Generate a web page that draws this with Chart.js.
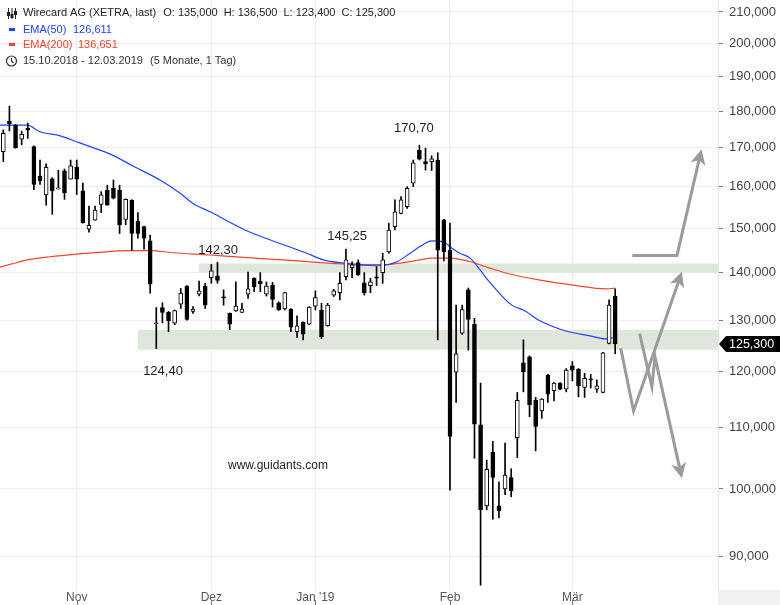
<!DOCTYPE html>
<html>
<head>
<meta charset="utf-8">
<script src="https://cdn.jsdelivr.net/npm/chart.js@4.4.1/dist/chart.umd.min.js"></script>
<style>
  html, body { margin: 0; padding: 0; background: #fff; }
  canvas { display: block; }
</style>
</head>
<body>
<canvas id="myChart" width="780" height="605"></canvas>
<script>
// daily candles 16.10.2018 .. 12.03.2019 (index 0 = first visible day)
const open = [169.0, 177.2, 176.1, 172.3, 175.2, 170.3, 162.7, 158.0, 162.0, 159.5,
  164.0, 161.9, 165.0, 159.0, 149.8, 151.9, 155.7, 159.1, 159.6, 159.2,
  152.1, 156.7, 151.7, 150.4, 147.1, 129.3, 132.6, 131.6, 129.4, 133.3,
  137.1, 131.8, 135.4, 137.1, 138.9, 139.3, 134.8, 131.4, 131.9, 131.6,
  135.4, 138.8, 138.2, 135.4, 137.3, 133.6, 132.3, 132.3, 127.7, 129.6,
  129.2, 132.9, 132.1, 128.9, 135.2, 135.7, 139.1, 141.1, 142.2, 137.8,
  137.2, 139.1, 140.0, 144.6, 150.4, 153.5, 155.1, 160.9, 169.4, 166.4,
  166.4, 166.8, 152.0, 145.0, 119.9, 127.4, 136.3, 129.2, 110.5, 97.4,
  105.9, 97.4, 100.0, 101.8, 108.3, 121.7, 122.8, 114.8, 112.9, 119.4,
  116.5, 117.9, 116.8, 121.1, 120.5, 117.1, 118.7, 116.8, 116.2, 125.4,
  135.0];
const high = [174.8, 181.4, 176.3, 174.5, 176.7, 170.5, 166.8, 165.8, 162.3, 164.2,
  164.5, 166.8, 166.8, 160.9, 155.3, 155.3, 158.8, 160.4, 161.7, 160.4,
  157.0, 156.8, 153.7, 150.5, 148.4, 132.6, 133.6, 131.8, 132.1, 136.6,
  137.2, 132.8, 138.2, 137.7, 141.8, 142.3, 136.3, 131.5, 138.0, 133.5,
  140.1, 138.9, 140.0, 138.0, 137.9, 133.8, 135.8, 132.4, 130.9, 129.7,
  132.8, 136.1, 133.5, 133.5, 136.4, 140.0, 145.25, 142.4, 142.8, 140.0,
  138.8, 141.3, 144.3, 151.2, 156.8, 157.6, 160.0, 166.8, 170.7, 169.9,
  167.9, 168.7, 152.1, 151.2, 133.1, 133.1, 136.7, 130.4, 117.9, 104.6,
  107.7, 101.1, 107.4, 103.2, 116.2, 126.1, 123.0, 115.3, 115.1, 119.5,
  118.0, 118.0, 120.6, 121.9, 120.6, 119.7, 119.5, 118.5, 123.7, 134.2,
  136.5];
const low = [166.4, 174.5, 169.9, 170.8, 172.5, 159.3, 160.6, 155.5, 153.3, 159.4,
  156.9, 161.9, 158.1, 151.2, 149.1, 151.9, 153.7, 155.5, 157.0, 148.8,
  150.8, 145.0, 147.7, 145.2, 135.6, 124.4, 129.5, 127.7, 129.1, 132.4,
  130.0, 131.4, 135.0, 132.4, 137.7, 137.7, 133.1, 128.1, 131.8, 131.6,
  134.5, 135.9, 135.9, 135.0, 132.7, 132.0, 132.1, 127.7, 126.6, 126.1,
  129.1, 132.1, 126.4, 128.8, 134.9, 134.2, 138.4, 138.9, 139.4, 135.2,
  135.7, 137.2, 137.7, 144.3, 149.6, 153.4, 154.7, 160.0, 166.8, 164.2,
  164.1, 126.1, 142.6, 99.8, 114.4, 127.2, 124.1, 104.9, 86.1, 96.8,
  95.4, 95.6, 99.1, 98.8, 105.0, 116.3, 111.9, 106.1, 111.6, 114.4,
  114.7, 116.7, 116.3, 118.3, 115.4, 115.3, 117.0, 116.2, 116.1, 125.3,
  123.4];
const close = [173.9, 176.5, 170.0, 173.6, 174.7, 160.6, 161.5, 164.9, 159.0, 159.7,
  158.5, 165.3, 161.9, 151.3, 150.7, 154.3, 158.0, 155.5, 157.2, 150.8,
  156.9, 148.8, 148.8, 147.7, 137.5, 129.5, 131.6, 129.9, 132.0, 135.6,
  130.2, 132.3, 136.1, 133.1, 140.4, 138.3, 134.6, 129.2, 132.9, 132.3,
  136.5, 136.9, 137.6, 137.1, 134.3, 132.1, 135.7, 128.6, 128.9, 127.2,
  132.7, 134.7, 126.7, 133.1, 136.1, 137.7, 142.8, 141.7, 139.5, 135.7,
  138.0, 138.8, 142.8, 149.6, 153.9, 156.8, 159.6, 166.1, 167.0, 165.8,
  167.1, 145.0, 144.6, 108.5, 123.4, 132.2, 130.2, 110.6, 96.8, 103.1,
  101.8, 96.7, 102.2, 99.7, 114.8, 120.0, 114.0, 110.2, 115.0, 115.9,
  117.9, 116.8, 120.3, 120.3, 117.4, 118.8, 118.5, 117.4, 123.6, 133.1,
  125.3];

const monthTickIndex = [12, 34, 51, 73, 93];
const monthTickLabels = ["Nov", "Dez", "Jan '19", "Feb", "Mär"];
const priceTicks = [90, 100, 110, 120, 130, 140, 150, 160, 170, 180, 190, 200, 210];

const ema50Index = [-0.6, 3.9, 6, 9.3, 12, 14.2, 17.4, 21.5, 25.6, 28.9, 31, 33.8, 39.5, 45.8,
  49.6, 52.3, 55.6, 59.4, 62.1, 64.3, 66.5, 68.1, 70, 71.9, 73.3, 74.6, 76.3, 79.2, 83.1,
  85, 87.7, 91, 93.1, 95.9, 98.3, 100];
const ema50Values = [176.1, 176.1, 174.3, 173.2, 171.6, 170.3, 168.4, 165.0, 161.7, 158.4,
  155.9, 153.9, 149.6, 146.2, 144.3, 142.8, 142.1, 141.7, 141.7, 142.4, 144.3, 145.8,
  147.1, 146.9, 145.4, 144.3, 143.2, 138.4, 133.1, 132.1, 129.9, 128.2, 127.5, 126.9,
  126.3, 126.611];
const ema200Index = [-0.6, 1.1, 4.4, 7.6, 12, 15.8, 20.2, 24, 27.8, 33.8, 38.7, 45.8, 51.7,
  55.6, 61, 64.8, 68.1, 70, 73, 76.3, 79.5, 82.8, 87.7, 93.1, 98.6, 100];
const ema200Values = [141.2, 141.8, 142.9, 143.5, 144.1, 144.5, 144.9, 144.9, 144.4, 143.9,
  143.4, 142.8, 142.2, 141.9, 141.5, 142.1, 142.8, 143.2, 143.2, 142.4, 141.0, 139.7,
  138.4, 137.3, 136.5, 136.651];

// support / resistance zones (start index, low, high)
const zoneStart = [32, 22];
const zoneLow = [140.0, 124.2];
const zoneHigh = [142.0, 128.1];

// price notes
const noteText = ["170,70", "145,25", "142,30", "124,40"];
const noteIndex = [67.1, 56.2, 35.1, 26.1];
const noteValue = [170.7, 145.25, 142.3, 124.4];

// drawn scenario arrows, [index, price] points
const arrowPaths = [
  [[102.8, 143.8], [110.1, 143.8], [114.1, 169.6]],
  [[100.9, 124.5], [103.0, 112.9], [110.9, 140.2]],
  [[104.0, 127.3], [106.0, 117.2], [106.5, 122.8], [110.9, 101.7]],
];

const FONT = "'Liberation Sans', Arial, sans-serif";
const fmt = (v, d) => v.toFixed(d).replace(".", ",");

const bodies = open.map((o, i) => ({ x: i, y: [o, close[i]] }));
const wicks = low.map((l, i) => ({ x: i, y: [l, high[i]] }));
const bodyColors = open.map((o, i) => (close[i] >= o ? "#ffffff" : "#000000"));

const decor = {
  id: "decor",
  beforeDraw(chart) {
    const { ctx, width, height, chartArea } = chart;
    ctx.save();
    ctx.fillStyle = "#fff";
    ctx.fillRect(0, 0, width, height);
    ctx.fillStyle = "#f2f2f2";
    ctx.fillRect(chartArea.right, chartArea.bottom, width - chartArea.right, height - chartArea.bottom);
    ctx.restore();
  },
  beforeDatasetsDraw(chart) {
    const { ctx, chartArea, scales: { x, y } } = chart;
    ctx.save();
    ctx.fillStyle = "#dfe6dc";
    zoneStart.forEach((s, k) => {
      const x0 = x.getPixelForValue(s);
      const y0 = y.getPixelForValue(zoneHigh[k]);
      const y1 = y.getPixelForValue(zoneLow[k]);
      ctx.fillRect(x0, y0, chartArea.right - x0, y1 - y0);
    });
    ctx.restore();
  },
  afterDatasetsDraw(chart) {
    const { ctx, scales: { x, y } } = chart;
    ctx.save();
    // arrows
    ctx.strokeStyle = "#9b9b9b";
    ctx.fillStyle = "#9b9b9b";
    ctx.lineWidth = 3;
    arrowPaths.forEach((path) => {
      const pts = path.map(([i, v]) => [x.getPixelForValue(i), y.getPixelForValue(v)]);
      const [tx, ty] = pts[pts.length - 1];
      const [px, py] = pts[pts.length - 2];
      const a = Math.atan2(ty - py, tx - px);
      const len = 15, half = 7.5;
      ctx.beginPath();
      ctx.moveTo(pts[0][0], pts[0][1]);
      for (let k = 1; k < pts.length - 1; k++) ctx.lineTo(pts[k][0], pts[k][1]);
      ctx.lineTo(tx - Math.cos(a) * len * 0.7, ty - Math.sin(a) * len * 0.7);
      ctx.stroke();
      ctx.beginPath();
      ctx.moveTo(tx, ty);
      ctx.lineTo(tx - len * Math.cos(a) + half * Math.sin(a), ty - len * Math.sin(a) - half * Math.cos(a));
      ctx.lineTo(tx - len * 0.75 * Math.cos(a), ty - len * 0.75 * Math.sin(a));
      ctx.lineTo(tx - len * Math.cos(a) - half * Math.sin(a), ty - len * Math.sin(a) + half * Math.cos(a));
      ctx.closePath();
      ctx.fill();
    });
    // price notes
    const noteOffset = [-17, -13, -12, 23];
    ctx.fillStyle = "#222";
    ctx.font = "13px " + FONT;
    ctx.textAlign = "center";
    ctx.textBaseline = "middle";
    noteText.forEach((t, k) => {
      ctx.fillText(t, x.getPixelForValue(noteIndex[k]), y.getPixelForValue(noteValue[k]) + noteOffset[k]);
    });
    ctx.font = "12px " + FONT;
    ctx.textAlign = "left";
    ctx.fillText("www.guidants.com", 228, 466);
    ctx.restore();
  },
  afterDraw(chart) {
    const { ctx, width, height, chartArea, scales: { x, y } } = chart;
    ctx.save();
    // x tick marks under the labels
    ctx.strokeStyle = "#777";
    ctx.lineWidth = 1;
    x.ticks.forEach((t) => {
      const px = Math.round(x.getPixelForValue(t.value)) + 0.5;
      ctx.beginPath();
      ctx.moveTo(px, height - 5);
      ctx.lineTo(px, height);
      ctx.stroke();
    });

    // last price tag
    const last = close[close.length - 1];
    const py = y.getPixelForValue(last);
    const r = chartArea.right;
    ctx.fillStyle = "#000";
    ctx.beginPath();
    ctx.moveTo(r + 1, py);
    ctx.lineTo(r + 8, py - 8);
    ctx.lineTo(width, py - 8);
    ctx.lineTo(width, py + 8);
    ctx.lineTo(r + 8, py + 8);
    ctx.closePath();
    ctx.fill();
    ctx.fillStyle = "#fff";
    ctx.font = "12.5px " + FONT;
    ctx.textBaseline = "middle";
    ctx.textAlign = "left";
    ctx.fillText(fmt(last, 3), r + 11, py + 1);

    // legend block
    const n = close.length - 1;
    ctx.font = "11px " + FONT;
    ctx.fillStyle = "#222";
    // candle icon
    ctx.strokeStyle = "#222";
    [8, 11.5, 15].forEach((ix, k) => {
      ctx.beginPath();
      ctx.moveTo(ix + 0.5, 8);
      ctx.lineTo(ix + 0.5, 19);
      ctx.stroke();
      ctx.fillRect(ix - 1, [12, 14, 11][k], 3, 4);
    });
    const parts = [
      "Wirecard AG (XETRA, last)",
      "O: " + fmt(open[n], 3),
      "H: " + fmt(high[n], 3),
      "L: " + fmt(low[n], 3),
      "C: " + fmt(close[n], 3),
    ];
    let lx = 23;
    parts.forEach((p, k) => {
      ctx.fillText(p, lx, 13);
      lx += ctx.measureText(p).width + (k === 0 ? 7 : 6);
    });

    ctx.fillStyle = "#2342ff";
    ctx.fillRect(9, 28, 6, 3);
    ctx.fillText("EMA(50)", 23, 29.5);
    ctx.fillText(fmt(ema50Values[ema50Values.length - 1], 3), 73, 29.5);

    ctx.fillStyle = "#f2452f";
    ctx.fillRect(9, 43, 6, 3);
    ctx.fillText("EMA(200)", 23, 44.5);
    ctx.fillText(fmt(ema200Values[ema200Values.length - 1], 3), 78, 44.5);

    ctx.strokeStyle = "#333";
    ctx.lineWidth = 1.2;
    ctx.beginPath();
    ctx.arc(11.5, 61, 5, 0, Math.PI * 2);
    ctx.moveTo(11.5, 58);
    ctx.lineTo(11.5, 61);
    ctx.lineTo(13.5, 63);
    ctx.stroke();
    ctx.fillStyle = "#333";
    ctx.fillText("15.10.2018 - 12.03.2019", 23, 61);
    ctx.fillText("(5 Monate, 1 Tag)", 150, 61);
    ctx.restore();
  },
};

new Chart(document.getElementById("myChart"), {
  type: "bar",
  data: {
    datasets: [
      {
        type: "bar",
        data: bodies,
        backgroundColor: bodyColors,
        borderColor: "#000",
        borderWidth: 1,
        borderSkipped: false,
        barThickness: 4,
        minBarLength: 1,
        grouped: false,
        order: 0,
      },
      {
        type: "bar",
        data: wicks,
        backgroundColor: "#000",
        barThickness: 1,
        grouped: false,
        order: 1,
      },
      {
        type: "line",
        data: ema50Index.map((i, k) => ({ x: i, y: ema50Values[k] })),
        borderColor: "#2342ff",
        borderWidth: 1.2,
        pointRadius: 0,
        cubicInterpolationMode: "monotone",
        order: 2,
      },
      {
        type: "line",
        data: ema200Index.map((i, k) => ({ x: i, y: ema200Values[k] })),
        borderColor: "#f2452f",
        borderWidth: 1.2,
        pointRadius: 0,
        cubicInterpolationMode: "monotone",
        order: 3,
      },
    ],
  },
  options: {
    responsive: false,
    animation: false,
    layout: { padding: 0, autoPadding: false },
    plugins: { legend: { display: false }, tooltip: { enabled: false } },
    scales: {
      x: {
        type: "linear",
        bounds: "data",
        min: -0.54,
        max: 116.8,
        offset: false,
        afterBuildTicks: (s) => { s.ticks = monthTickIndex.map((v) => ({ value: v })); },
        afterFit: (s) => { s.height = 15; s.paddingLeft = 0; s.paddingRight = 0; },
        grid: { color: "#ececec", offset: false, drawTicks: false },
        border: { display: false },
        ticks: {
          autoSkip: false,
          maxRotation: 0,
          padding: 0,
          color: "#555",
          font: { family: FONT, size: 12 },
          callback: (v) => monthTickLabels[monthTickIndex.indexOf(v)] || "",
        },
      },
      y: {
        type: "logarithmic",
        position: "right",
        bounds: "data",
        min: 85.46,
        max: 213.94,
        afterBuildTicks: (s) => { s.ticks = priceTicks.map((v) => ({ value: v })); },
        afterFit: (s) => { s.width = 62; s.paddingTop = 0; s.paddingBottom = 0; },
        grid: { color: "#ececec", tickLength: 5, tickColor: "#777" },
        border: { display: true, color: "#e4e4e4" },
        ticks: {
          autoSkip: false,
          padding: 6,
          color: "#444",
          font: { family: FONT, size: 13 },
          callback: (v) => fmt(v, 3),
        },
      },
    },
  },
  plugins: [decor],
});
</script>
</body>
</html>
